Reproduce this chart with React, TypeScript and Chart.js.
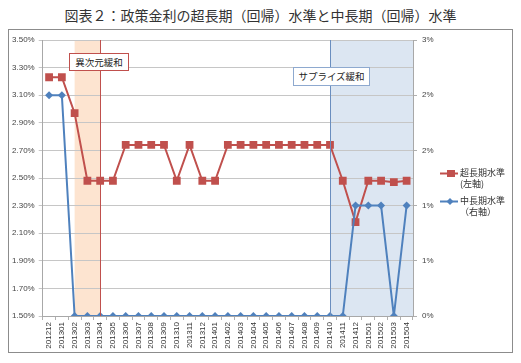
import React, { useEffect, useRef } from 'react';
import { Chart, registerables } from 'chart.js';

Chart.register(...registerables);

const categories = [
  '201212', '201301', '201302', '201303', '201304', '201305', '201306', '201307',
  '201308', '201309', '201310', '201311', '201312', '201401', '201402', '201403',
  '201404', '201405', '201406', '201407', '201408', '201409', '201410', '201411',
  '201412', '201501', '201502', '201503', '201504',
];

// 超長期水準 (left axis, %)
const superLongLevel = [
  3.23, 3.23, 2.97, 2.48, 2.48, 2.48, 2.74, 2.74, 2.74, 2.74, 2.48, 2.74, 2.48, 2.48, 2.74,
  2.74, 2.74, 2.74, 2.74, 2.74, 2.74, 2.74, 2.74, 2.48, 2.18, 2.48, 2.48, 2.47, 2.48,
];

// 中長期水準 (right axis, %)
const midLongLevel = [
  2.4, 2.4, 0, 0, 0, 0, 0, 0, 0, 0, 0, 0, 0, 0, 0,
  0, 0, 0, 0, 0, 0, 0, 0, 0, 1.2, 1.2, 1.2, 0, 1.2,
];

const leftTickLabels = ['1.50%', '1.70%', '1.90%', '2.10%', '2.30%', '2.50%', '2.70%', '2.90%', '3.10%', '3.30%', '3.50%'];
const rightTickLabels = ['0%', '1%', '1%', '2%', '2%', '3%'];

const seriesNames = ['超長期水準', '中長期水準'];
const title = '図表２：政策金利の超長期（回帰）水準と中長期（回帰）水準';

const RED = '#C0504D';
const BLUE = '#4F81BD';
const CJK = '"Noto Sans CJK JP", "Noto Sans", sans-serif';

export default function App() {
  const ref = useRef<HTMLCanvasElement>(null);

  useEffect(() => {
    const bands = {
      id: 'bands',
      beforeDraw(chart: any) {
        const { ctx, chartArea } = chart;
        const x = chart.scales.x;
        const top = chartArea.top;
        const h = chartArea.bottom - chartArea.top;
        ctx.save();
        const o0 = x.getPixelForValue(2);
        const o1 = x.getPixelForValue(4);
        ctx.fillStyle = '#FDE4D0';
        ctx.fillRect(o0, top, o1 - o0, h);
        const b0 = x.getPixelForValue(22);
        ctx.fillStyle = '#DCE6F2';
        ctx.fillRect(b0, top, chartArea.right - b0, h);
        ctx.restore();
      },
      afterDraw(chart: any) {
        const { ctx, chartArea } = chart;
        const x = chart.scales.x;
        ctx.save();
        ctx.lineWidth = 1;
        const o1 = Math.round(x.getPixelForValue(4)) + 0.5;
        ctx.strokeStyle = RED;
        ctx.beginPath();
        ctx.moveTo(o1, chartArea.top);
        ctx.lineTo(o1, chartArea.bottom);
        ctx.stroke();
        const b0 = Math.round(x.getPixelForValue(22)) + 0.5;
        ctx.strokeStyle = '#6A8EBF';
        ctx.beginPath();
        ctx.moveTo(b0, chartArea.top);
        ctx.lineTo(b0, chartArea.bottom);
        ctx.stroke();
        ctx.restore();
      },
    };

    const chart = new Chart(ref.current as HTMLCanvasElement, {
      type: 'line',
      data: {
        labels: categories,
        datasets: [
          {
            label: seriesNames[1],
            data: midLongLevel,
            yAxisID: 'y1',
            borderColor: BLUE,
            backgroundColor: BLUE,
            borderWidth: 2,
            pointStyle: 'rectRot',
            pointRadius: 4,
            pointBorderWidth: 0,
            tension: 0,
            order: 0,
          },
          {
            label: seriesNames[0],
            data: superLongLevel,
            yAxisID: 'y',
            borderColor: RED,
            backgroundColor: RED,
            borderWidth: 2,
            pointStyle: 'rect',
            pointRadius: 5.5,
            pointBorderWidth: 0,
            tension: 0,
            order: 1,
          },
        ],
      },
      options: {
        responsive: false,
        animation: false,
        layout: { padding: { top: 10, left: 0, right: 0, bottom: 0 } },
        plugins: {
          legend: { display: false },
          tooltip: { enabled: false },
          title: { display: false },
        },
        scales: {
          x: {
            type: 'category',
            offset: true,
            grid: {
              display: true,
              drawOnChartArea: false,
              offset: true,
              tickLength: 4,
              color: '#b0b0b0',
            },
            border: { color: '#a8a8a8' },
            ticks: {
              autoSkip: false,
              maxRotation: 90,
              minRotation: 90,
              padding: 2,
              color: '#333',
              font: { family: '"Liberation Sans", Arial, sans-serif', size: 8 },
            },
            afterFit(scale: any) {
              scale.height = 36;
            },
          },
          y: {
            type: 'linear',
            position: 'left',
            min: 1.5,
            max: 3.5,
            ticks: {
              stepSize: 0.2,
              padding: 4,
              color: '#444',
              font: { family: '"Liberation Sans", Arial, sans-serif', size: 8 },
              callback: (_v: any, i: number) => leftTickLabels[i],
            },
            grid: { color: '#c6c6c6', tickLength: 4 },
            border: { color: '#a8a8a8' },
            afterFit(scale: any) {
              scale.width = 33.7;
            },
          },
          y1: {
            type: 'linear',
            position: 'right',
            min: 0,
            max: 3,
            ticks: {
              stepSize: 0.6,
              padding: 5,
              color: '#444',
              font: { family: '"Liberation Sans", Arial, sans-serif', size: 8 },
              callback: (_v: any, i: number) => rightTickLabels[i],
            },
            grid: { drawOnChartArea: false, color: '#b0b0b0', tickLength: 4 },
            border: { color: '#a8a8a8' },
            afterFit(scale: any) {
              scale.width = 99;
            },
          },
        },
      },
      plugins: [bands],
    } as any);
    return () => chart.destroy();
  }, []);

  const legendText: React.CSSProperties = {
    position: 'absolute',
    fontFamily: CJK,
    fontSize: 9,
    lineHeight: '11px',
    color: '#333',
    whiteSpace: 'nowrap',
  };

  const boxText: React.CSSProperties = {
    position: 'absolute',
    boxSizing: 'border-box',
    background: '#fff',
    fontFamily: CJK,
    fontSize: 9.5,
    textAlign: 'center',
    color: '#222',
    fontWeight: 400,
    whiteSpace: 'nowrap',
  };

  return (
    <div style={{ position: 'relative', width: 505, height: 345 }}>
      <div
        style={{
          position: 'absolute',
          top: 0,
          left: 0,
          width: 505,
          height: 14,
          lineHeight: '14px',
          textAlign: 'center',
          fontFamily: CJK,
          fontSize: 14,
          color: '#333',
          whiteSpace: 'nowrap',
        }}
      >
        {title}
      </div>
      <div
        style={{
          position: 'absolute',
          top: 21,
          left: 0,
          width: 505,
          height: 324,
          boxSizing: 'border-box',
          border: '1px solid #8c8c8c',
          background: '#fff',
        }}
      >
        <canvas ref={ref} width={503} height={322} style={{ display: 'block' }} />
      </div>

      <div
        style={{
          ...boxText,
          left: 61,
          top: 45,
          width: 60,
          height: 18,
          border: `1px solid ${RED}`,
          lineHeight: '16px',
        }}
      >
        異次元緩和
      </div>
      <div
        style={{
          ...boxText,
          left: 285,
          top: 59,
          width: 77,
          height: 19,
          border: '1px solid #8EA9CF',
          lineHeight: '17px',
        }}
      >
        サプライズ緩和
      </div>

      <svg style={{ position: 'absolute', left: 432, top: 160 }} width={20} height={40}>
        <line x1={0} y1={5.5} x2={18} y2={5.5} stroke={RED} strokeWidth={2} />
        <rect x={7} y={2} width={8} height={7} fill={RED} />
        <line x1={0} y1={33.5} x2={18} y2={33.5} stroke={BLUE} strokeWidth={2} />
        <polygon points="10,30 13.5,33.5 10,37 6.5,33.5" fill={BLUE} />
      </svg>
      <div style={{ ...legendText, left: 452, top: 159 }}>{seriesNames[0]}</div>
      <div style={{ ...legendText, left: 452, top: 170 }}>(左軸)</div>
      <div style={{ ...legendText, left: 452, top: 187 }}>{seriesNames[1]}</div>
      <div style={{ ...legendText, left: 452, top: 198 }}>（右軸）</div>
    </div>
  );
}
